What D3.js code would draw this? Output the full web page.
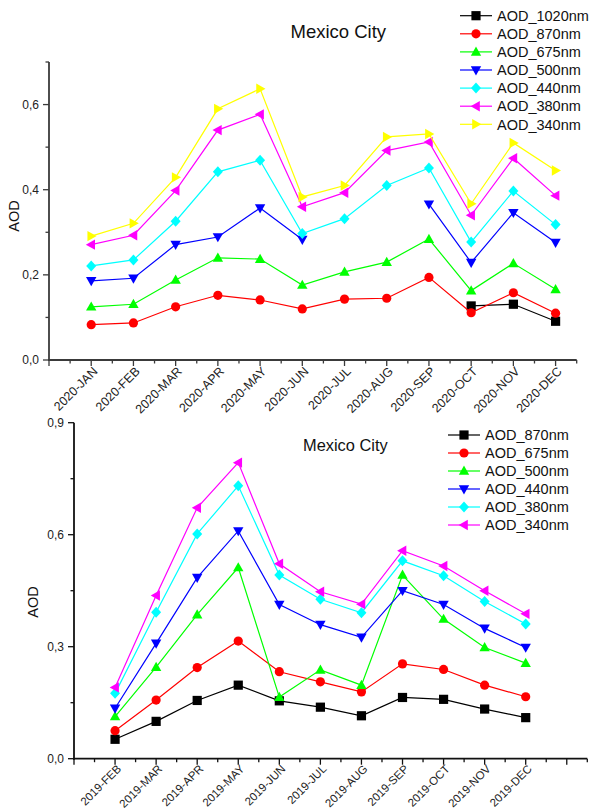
<!DOCTYPE html>
<html><head><meta charset="utf-8">
<script src="https://cdn.jsdelivr.net/npm/d3@7"></script>
<style>body{margin:0;background:#fff}svg{display:block;font-family:"Liberation Sans",Arial,sans-serif}</style>
</head><body><svg id="c" width="590" height="811"></svg>
<script>
// ---------- data: top chart (2020) ----------
const months2020 = ["2020-JAN","2020-FEB","2020-MAR","2020-APR","2020-MAY","2020-JUN","2020-JUL","2020-AUG","2020-SEP","2020-OCT","2020-NOV","2020-DEC"];
const top1020 = [null,null,null,null,null,null,null,null,null,0.127,0.131,0.091];
const top870  = [0.083,0.087,0.125,0.152,0.141,0.120,0.143,0.145,0.194,0.111,0.158,0.110];
const top675  = [0.125,0.131,0.188,0.240,0.237,0.176,0.207,0.230,0.284,0.163,0.227,0.166];
const top500  = [0.186,0.192,0.271,0.289,0.357,0.283,null,null,0.366,0.229,0.346,0.276];
const top440  = [0.221,0.235,0.326,0.442,0.469,0.297,0.332,0.410,0.451,0.277,0.397,0.318];
const top380  = [0.271,0.293,0.398,0.540,0.577,0.360,0.393,0.492,0.512,0.340,0.474,0.386];
const top340  = [0.291,0.321,0.429,0.590,0.637,0.383,0.410,0.524,0.531,0.367,0.510,0.445];
const topNames = ["AOD_1020nm","AOD_870nm","AOD_675nm","AOD_500nm","AOD_440nm","AOD_380nm","AOD_340nm"];
const topYTicks = [0, 0.2, 0.4, 0.6];

// ---------- data: bottom chart (2019) ----------
const months2019 = ["2019-FEB","2019-MAR","2019-APR","2019-MAY","2019-JUN","2019-JUL","2019-AUG","2019-SEP","2019-OCT","2019-NOV","2019-DEC"];
const bot870 = [0.052,0.100,0.156,0.197,0.155,0.138,0.115,0.164,0.159,0.133,0.110];
const bot675 = [0.075,0.157,0.244,0.315,0.233,0.206,0.179,0.254,0.239,0.197,0.166];
const bot500 = [0.113,0.245,0.386,0.512,0.165,0.238,0.197,0.492,0.374,0.298,0.256];
const bot440 = [0.135,0.309,0.485,0.610,0.413,0.359,0.325,0.450,0.413,0.349,0.298];
const bot380 = [0.175,0.392,0.602,0.731,0.492,0.427,0.391,0.530,0.490,0.421,0.361];
const bot340 = [0.191,0.437,0.672,0.793,0.522,0.447,0.414,0.557,0.516,0.450,0.388];
const botNames = ["AOD_870nm","AOD_675nm","AOD_500nm","AOD_440nm","AOD_380nm","AOD_340nm"];
const botYTicks = [0, 0.3, 0.6, 0.9];

const svg = d3.select("#c");

function marker(g, type, color, cx, cy) {
  const s = 4.6;
  let p;
  switch (type) {
    case "square": p = `M${cx-s},${cy-s}h${2*s}v${2*s}h${-2*s}Z`; break;
    case "circle": g.append("circle").attr("cx",cx).attr("cy",cy).attr("r",4.6).attr("fill",color); return;
    case "up": p = `M${cx},${cy-5.4}L${cx+5.2},${cy+3.8}L${cx-5.2},${cy+3.8}Z`; break;
    case "down": p = `M${cx},${cy+5.4}L${cx+5.2},${cy-3.8}L${cx-5.2},${cy-3.8}Z`; break;
    case "diamond": p = `M${cx},${cy-5.5}L${cx+5},${cy}L${cx},${cy+5.5}L${cx-5},${cy}Z`; break;
    case "left": p = `M${cx-5.4},${cy}L${cx+3.8},${cy-5.2}L${cx+3.8},${cy+5.2}Z`; break;
    case "right": p = `M${cx+5.4},${cy}L${cx-3.8},${cy-5.2}L${cx-3.8},${cy+5.2}Z`; break;
  }
  g.append("path").attr("d",p).attr("fill",color);
}

function drawChart(cfg) {
  const g = svg.append("g");
  const x = d3.scaleLinear().domain(cfg.xDomain).range(cfg.xRange);
  const y = d3.scaleLinear().domain(cfg.yDomain).range(cfg.yRange);

  // series
  cfg.series.forEach((s, si) => {
    const pts = s.values.map((v, i) => ({i: i + cfg.firstIndex, v}));
    const line = d3.line().defined(d => d.v !== null).x(d => x(d.i)).y(d => y(d.v));
    g.append("path").attr("d", line(pts)).attr("fill","none").attr("stroke", s.color).attr("stroke-width",1.2);
    pts.filter(d => d.v !== null).forEach(d => marker(g, s.shape, s.color, x(d.i), y(d.v)));
  });

  // axes
  const ax = g.append("g").attr("stroke", cfg.axisColor).attr("fill","none");
  ax.append("line").attr("x1", x.range()[0]).attr("x2", x.range()[0]).attr("y1", y.range()[0]+1).attr("y2", y.range()[1]).attr("stroke-width",1.8);
  ax.append("line").attr("x1", x.range()[0]-1).attr("x2", x.range()[1]).attr("y1", y.range()[0]).attr("y2", y.range()[0]).attr("stroke-width",1.8);
  // y ticks
  const yStep = cfg.yTicks[1]-cfg.yTicks[0];
  cfg.yTicks.forEach(t => {
    ax.append("line").attr("x1", x.range()[0]).attr("x2", x.range()[0]-6).attr("y1", y(t)).attr("y2", y(t)).attr("stroke-width",1.3);
    g.append("text").attr("x", x.range()[0]-10).attr("y", y(t)).attr("dy","0.35em").attr("text-anchor","end")
      .attr("font-size",12).attr("fill","#222").text(d3.format(".1f")(t).replace(".",","));
  });
  d3.range(cfg.yDomain[0]+yStep/2, cfg.yDomain[1]+1e-9, yStep).forEach(t => {
    ax.append("line").attr("x1", x.range()[0]).attr("x2", x.range()[0]-3.5).attr("y1", y(t)).attr("y2", y(t)).attr("stroke-width",1.3);
  });
  // x ticks
  d3.range(Math.ceil(cfg.xDomain[0]), Math.floor(cfg.xDomain[1])+1).forEach(t => {
    ax.append("line").attr("x1", x(t)).attr("x2", x(t)).attr("y1", y.range()[0]).attr("y2", y.range()[0]+6).attr("stroke-width",1.3);
  });
  d3.range(cfg.xDomain[0]+0.5, cfg.xDomain[1]+1e-9, 1).forEach(t => {
    ax.append("line").attr("x1", x(t)).attr("x2", x(t)).attr("y1", y.range()[0]).attr("y2", y.range()[0]+3.5).attr("stroke-width",1.3);
  });
  cfg.labels.forEach((lab, i) => {
    const px = x(i + cfg.firstIndex), py = y.range()[0] + cfg.labelOffset;
    g.append("text").attr("transform", `translate(${px+4},${py}) rotate(-45)`).attr("text-anchor","end").attr("dy","0.35em")
      .attr("font-size",cfg.labelSize).attr("fill","#222").text(lab);
  });
  // axis title
  g.append("text").attr("transform", `translate(${cfg.yTitle[0]},${cfg.yTitle[1]}) rotate(-90)`).attr("text-anchor","middle").attr("dy","0.35em")
    .attr("font-size",14.5).attr("fill","#111").text("AOD");
  // title
  g.append("text").attr("x", cfg.title[0]).attr("y", cfg.title[1]).attr("font-size", cfg.title[2]).attr("fill","#111").text("Mexico City");
  // legend
  cfg.series.forEach((s, i) => {
    const ly = cfg.legend[1] + i * cfg.legend[2];
    const lx = cfg.legend[0];
    g.append("line").attr("x1", lx).attr("x2", lx+32).attr("y1", ly).attr("y2", ly).attr("stroke", s.color).attr("stroke-width",1.2);
    marker(g, s.shape, s.color, lx+16, ly);
    g.append("text").attr("x", lx+37).attr("y", ly).attr("dy","0.36em").attr("font-size",14.5).attr("fill","#111").text(s.name);
  });
}

const colors = ["#000000","#ff0000","#00ff00","#0000ff","#00ffff","#ff00ff","#ffff00"];
const shapes = ["square","circle","up","down","diamond","left","right"];

const topVals = [top1020, top870, top675, top500, top440, top380, top340];
drawChart({
  xDomain:[0,12.5], xRange:[49,576.7], yDomain:[0,0.7], yRange:[360,62], firstIndex:1,
  yTicks: topYTicks, labels: months2020, axisColor:"#3a3a3a", labelSize:12.5, labelOffset:9,
  series: topVals.map((v,i)=>({values:v, name:topNames[i], color:colors[i], shape:shapes[i]})),
  yTitle:[14,216], title:[290.5,38,18.5], legend:[460,15.7,18.1]
});

const botVals = [bot870, bot675, bot500, bot440, bot380, bot340];
drawChart({
  xDomain:[1,13.5], xRange:[74,587.3], yDomain:[0,0.9], yRange:[758.7,422.7], firstIndex:2,
  yTicks: botYTicks, labels: months2019, axisColor:"#111", labelSize:11.5, labelOffset:8,
  series: botVals.map((v,i)=>({values:v, name:botNames[i], color:colors[i], shape:shapes[i]})),
  yTitle:[33,602], title:[303,451,16.4], legend:[448,435,18]
});
</script></body></html>
